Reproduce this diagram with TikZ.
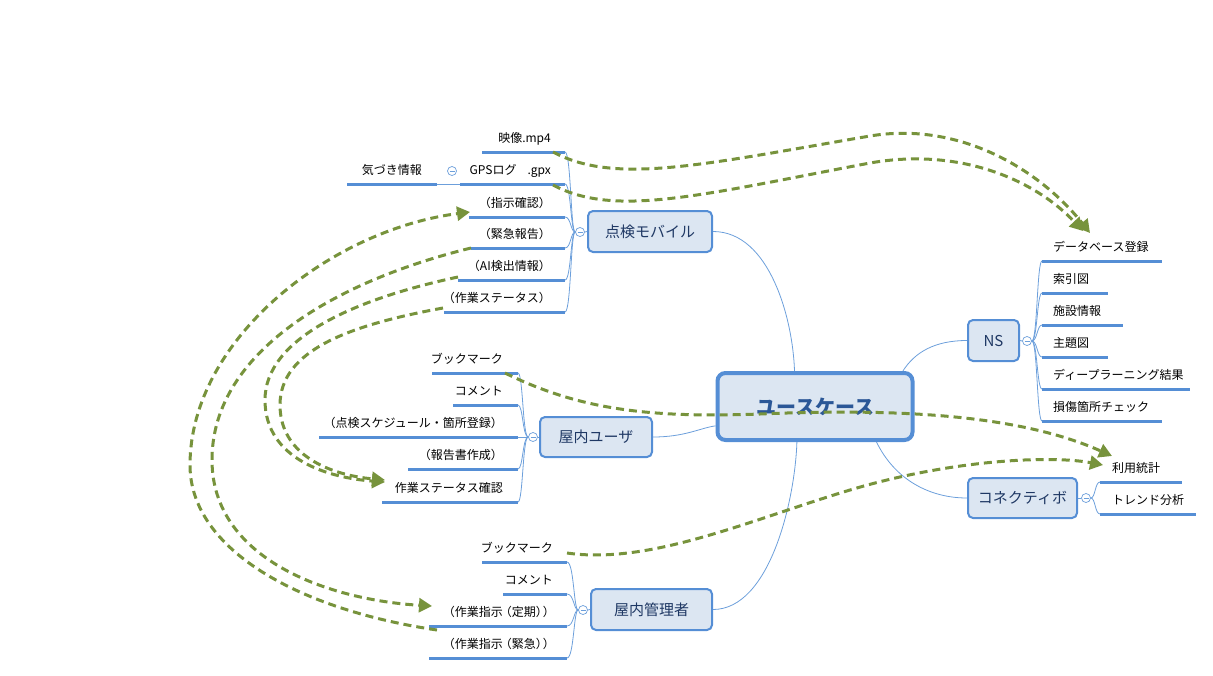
\documentclass[tikz,border=0pt]{standalone}
\usepackage{fontspec}
\setmainfont{Noto Sans CJK JP}
\usetikzlibrary{arrows.meta}
\definecolor{bl}{HTML}{558ED5}
\definecolor{bll}{HTML}{6C9FDB}
\definecolor{fillb}{HTML}{DCE6F2}
\definecolor{gr}{HTML}{77933C}
\definecolor{navy}{HTML}{1F3864}
\definecolor{cennavy}{HTML}{2B5797}
\newcommand\leafL[6]{%
  \coordinate (#1s) at (#2,#4); \coordinate (#1e) at (#3,#4);
  \draw[uline] (#1s) -- (#1e);
  \node[lbl, anchor=base east] (#1) at (#5,#4-10) {#6};}
\newcommand\leafR[6]{%
  \coordinate (#1s) at (#2,#4); \coordinate (#1e) at (#3,#4);
  \draw[uline] (#1s) -- (#1e);
  \node[lbl, anchor=base west] (#1) at (#5,#4-10) {#6};}
\begin{document}
\begin{tikzpicture}[x=1pt,y=-1pt,
 mainbox/.style={draw=bl, line width=2pt, fill=fillb, rounded corners=5pt, text=navy, font=\fontsize{15}{18}\selectfont, inner sep=0},
 cenbox/.style={draw=bl, line width=4pt, fill=fillb, rounded corners=8pt, text=cennavy, font=\fontsize{20}{24}\selectfont\bfseries, inner sep=0},
 uline/.style={draw=bl, line width=3pt},
 conn/.style={draw=bll, line width=0.8pt},
 lbl/.style={inner sep=0, font=\fontsize{12}{14}\selectfont},
 tog/.style={circle, draw=bll, line width=0.7pt, fill=white, minimum size=9pt, inner sep=0,
   path picture={\draw[bll, line width=0.7pt] ([xshift=-2.5pt]path picture bounding box.center) -- ([xshift=2.5pt]path picture bounding box.center);}},
 dsh/.style={draw=gr, line width=3pt, dash pattern=on 8pt off 5pt, -{Triangle[length=13pt,width=14pt]}},
]
\useasboundingbox (0,0) rectangle (1213,675);

% main nodes
\node[cenbox, minimum width=195pt, minimum height=67pt] (cen) at (815,406.5) {ユースケース};
\node[mainbox, minimum width=124pt, minimum height=41pt] (tk) at (650,231.5) {点検モバイル};
\node[mainbox, minimum width=112pt, minimum height=40pt] (ou) at (596,437) {屋内ユーザ};
\node[mainbox, minimum width=121pt, minimum height=41pt] (km) at (651.5,609.5) {屋内管理者};
\node[mainbox, minimum width=51pt, minimum height=41pt] (ns) at (993.5,340.5) {NS};
\node[mainbox, minimum width=109pt, minimum height=40pt] (kn) at (1022.5,498) {コネクティボ};

% center connectors
\draw[conn] (tk.east) .. controls (770,231.5) and (793,320) .. (cen.120);
\draw[conn] (km.east) .. controls (770,609.5) and (795,500) .. (cen.243);
\draw[conn] (ou.east) .. controls (685,437) and (700,428) .. (cen.191);
\draw[conn] (cen.22) .. controls (915,352) and (935,340.5) .. (ns.west);
\draw[conn] (cen.-30) .. controls (895,480) and (930,498) .. (kn.west);

% leaves: 点検モバイル
\leafL{m1}{482}{565}{152}{551}{映像.mp4}
\leafL{m2}{460}{565}{184}{551}{GPSログ\hspace*{11pt}.gpx}
\leafL{m3}{469}{565}{217}{551}{（指示確認）}
\leafL{m4}{471}{565}{248}{551}{（緊急報告）}
\leafL{m5}{458}{565}{280}{551}{（AI検出情報）}
\leafL{m6}{444}{565}{312}{551}{（作業ステータス）}
\leafL{k1}{347}{437}{184}{422}{気づき情報}
% 屋内ユーザ
\leafL{u1}{432}{518}{373}{503}{ブックマーク}
\leafL{u2}{453}{518}{405}{503}{コメント}
\leafL{u3}{319}{518}{437}{503}{（点検スケジュール・箇所登録）}
\leafL{u4}{408}{518}{469}{503}{（報告書作成）}
\leafL{u5}{382}{518}{502}{503}{作業ステータス確認}
% 屋内管理者
\leafL{a1}{482}{567}{562}{553}{ブックマーク}
\leafL{a2}{503}{567}{594}{553}{コメント}
\leafL{a3}{429}{567}{626}{555}{（作業指示\kern-3pt（定期）\kern-5pt）}
\leafL{a4}{429}{567}{658}{555}{（作業指示\kern-3pt（緊急）\kern-5pt）}
% NS
\leafR{n1}{1042}{1162}{261}{1053}{データベース登録}
\leafR{n2}{1042}{1108}{293}{1053}{索引図}
\leafR{n3}{1042}{1123}{325}{1053}{施設情報}
\leafR{n4}{1042}{1108}{357}{1053}{主題図}
\leafR{n5}{1042}{1190}{389}{1053}{ディープラーニング結果}
\leafR{n6}{1042}{1162}{421}{1053}{損傷箇所チェック}
% コネクティボ
\leafR{c1}{1100}{1182}{482}{1112}{利用統計}
\leafR{c2}{1100}{1196}{514}{1112}{トレンド分析}

% toggles
\node[tog] (tkc) at (580,232) {};
\node[tog] (ouc) at (533,437) {};
\node[tog] (kmc) at (583,610) {};
\node[tog] (nsc) at (1027,341) {};
\node[tog] (knc) at (1086,498) {};
\node[tog] (gpc) at (452,171) {};
\draw[conn] (tkc.east) -- (tk.west);
\draw[conn] (ouc.east) -- (ou.west);
\draw[conn] (kmc.east) -- (km.west);
\draw[conn] (nsc.west) -- (ns.east);
\draw[conn] (knc.west) -- (kn.east);
\draw[conn] (k1e) -- (m2s);

% leaf connectors
\foreach \n in {m1,m2,m3,m4,m5,m6}
  \draw[conn] (tkc.west) .. controls ([xshift=-4.5pt]tkc.west) and ([xshift=6pt]\n e) .. (\n e);
\foreach \n in {u1,u2,u3,u4,u5}
  \draw[conn] (ouc.west) .. controls ([xshift=-5.5pt]ouc.west) and ([xshift=5pt]\n e) .. (\n e);
\foreach \n in {a1,a2,a3,a4}
  \draw[conn] (kmc.west) .. controls ([xshift=-4.5pt]kmc.west) and ([xshift=7pt]\n e) .. (\n e);
\foreach \n in {n1,n2,n3,n4,n5,n6}
  \draw[conn] (nsc.east) .. controls ([xshift=5.5pt]nsc.east) and ([xshift=-5pt]\n s) .. (\n s);
\foreach \n in {c1,c2}
  \draw[conn] (knc.east) .. controls ([xshift=4.5pt]knc.east) and ([xshift=-5pt]\n s) .. (\n s);

% dashed arrows
\coordinate (A1s) at (553,152); \coordinate (A1t) at (1090,233);
\coordinate (A2s) at (553,185); \coordinate (A2t) at (1083,231);
\coordinate (A3s) at (437,630); \coordinate (A3t) at (470,212);
\coordinate (A4s) at (471,248); \coordinate (A4t) at (432,606);
\coordinate (A5s) at (458,277); \coordinate (A5t) at (385,482);
\coordinate (A6s) at (443,308); \coordinate (A6t) at (385,480);
\coordinate (A7s) at (505,373); \coordinate (A7t) at (1112,456);
\coordinate (A8s) at (567,553); \coordinate (A8t) at (1103,465);

\draw[dsh] (A1s) .. controls (615,185) and (700,165) .. (870,136) .. controls (960,121) and (1040,170) .. (A1t);
\draw[dsh] (A2s) .. controls (615,218) and (700,195) .. (870,163) .. controls (960,147) and (1035,180) .. (A2t);
\draw[dsh] (A3s) .. controls (300,610) and (190,550) .. (190,465) .. controls (190,340) and (330,230) .. (A3t);
\draw[dsh] (A4s) .. controls (340,280) and (212,350) .. (212,460) .. controls (212,560) and (330,600) .. (A4t);
\draw[dsh] (A5s) .. controls (350,300) and (265,340) .. (265,400) .. controls (265,460) and (330,478) .. (A5t);
\draw[dsh] (A6s) .. controls (350,325) and (280,350) .. (280,405) .. controls (280,455) and (330,475) .. (A6t);
\draw[dsh] (A7s) .. controls (580,410) and (650,418) .. (760,414) .. controls (900,408) and (1020,415) .. (A7t);
\draw[dsh] (A8s) .. controls (650,565) and (750,520) .. (850,490) .. controls (950,460) and (1050,455) .. (A8t);
\end{tikzpicture}
\end{document}
